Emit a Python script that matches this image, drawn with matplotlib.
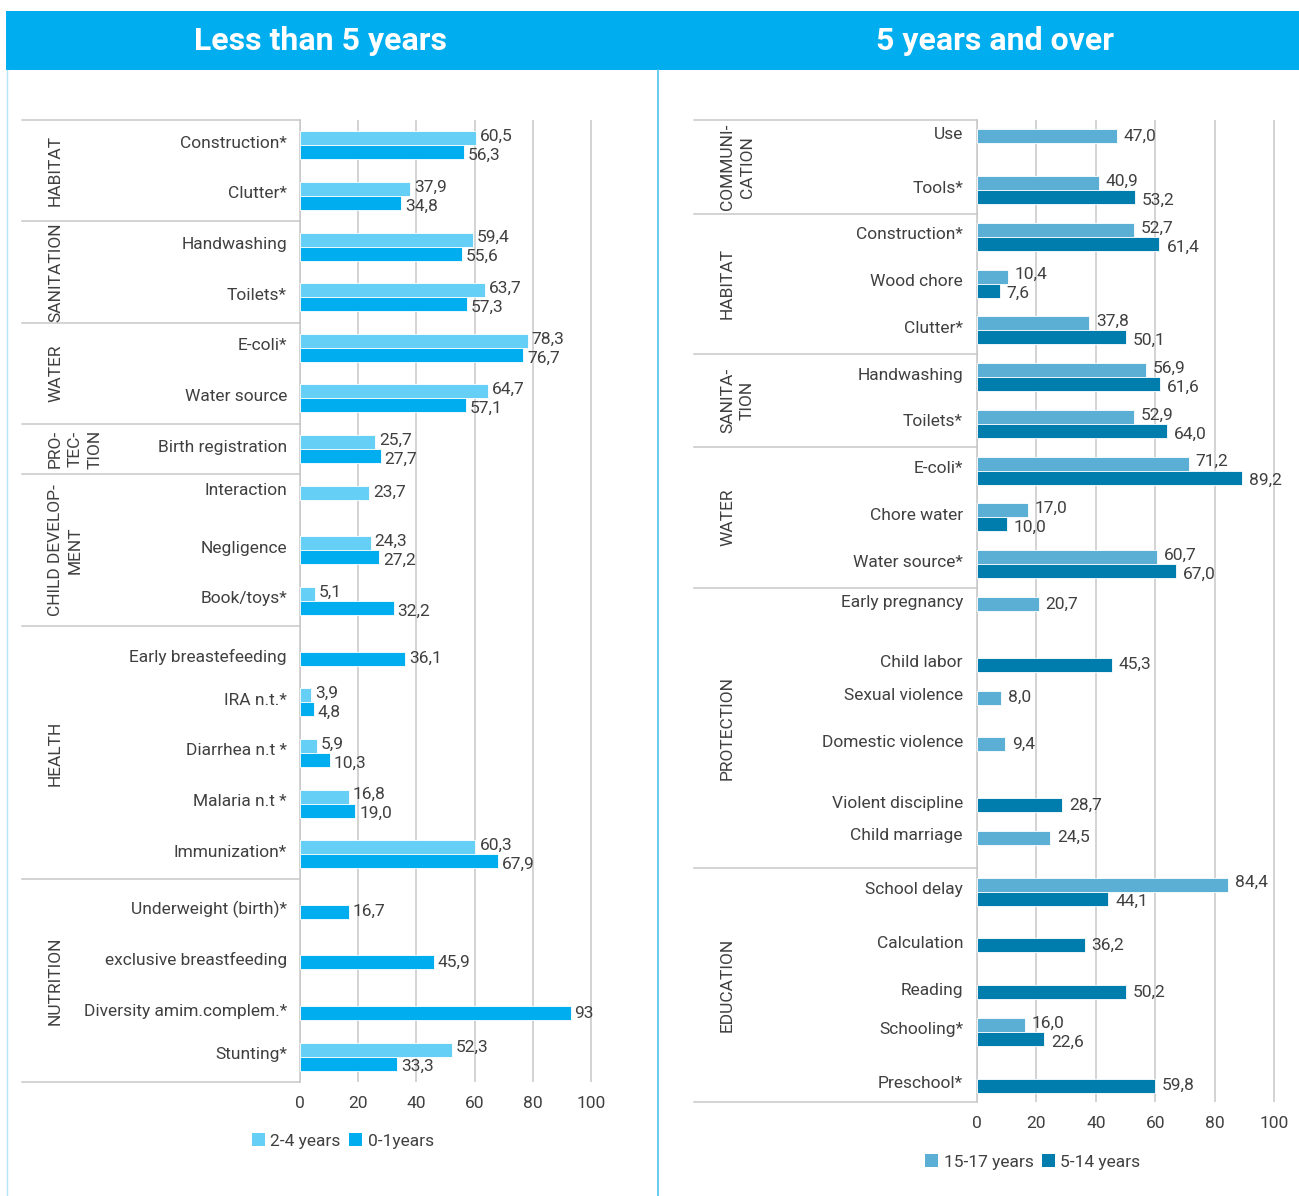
import matplotlib
matplotlib.use("Agg")
import matplotlib.pyplot as plt
from matplotlib import transforms
from matplotlib.patches import Patch, Rectangle
from matplotlib.lines import Line2D
import numpy as np

plt.rcParams['font.family'] = ['Roboto', 'DejaVu Sans']

# ---------------- Children under 5 ----------------
under5_groups = ["HABITAT", "SANITATION", "WATER", "PRO-\nTEC-\nTION",
                 "CHILD DEVELOP-\nMENT", "HEALTH", "NUTRITION"]
under5_group_sizes = [2, 2, 2, 1, 3, 5, 4]
under5_categories = ["Construction*", "Clutter*", "Handwashing", "Toilets*",
                     "E-coli*", "Water source", "Birth registration",
                     "Interaction", "Negligence", "Book/toys*",
                     "Early breastefeeding", "IRA n.t.*", "Diarrhea n.t *",
                     "Malaria n.t *", "Immunization*", "Underweight (birth)*",
                     "exclusive breastfeeding", "Diversity amim.complem.*",
                     "Stunting*"]
under5_series = ["2-4 years", "0-1years"]
age_2_4 = [60.5, 37.9, 59.4, 63.7, 78.3, 64.7, 25.7, 23.7, 24.3, 5.1,
           None, 3.9, 5.9, 16.8, 60.3, None, None, None, 52.3]
age_0_1 = [56.3, 34.8, 55.6, 57.3, 76.7, 57.1, 27.7, None, 27.2, 32.2,
           36.1, 4.8, 10.3, 19.0, 67.9, 16.7, 45.9, 93, 33.3]

# ---------------- Children 5 and over ----------------
over5_groups = ["COMMUNI-\nCATION", "HABITAT", "SANITA-\nTION", "WATER",
                "PROTECTION", "EDUCATION"]
over5_group_sizes = [2, 3, 2, 3, 6, 5]
over5_categories = ["Use", "Tools*", "Construction*", "Wood chore", "Clutter*",
                    "Handwashing", "Toilets*", "E-coli*", "Chore water",
                    "Water source*", "Early pregnancy", "Child labor",
                    "Sexual violence", "Domestic violence",
                    "Violent discipline", "Child marriage", "School delay",
                    "Calculation", "Reading", "Schooling*", "Preschool*"]
over5_series = ["15-17 years", "5-14 years"]
age_15_17 = [47.0, 40.9, 52.7, 10.4, 37.8, 56.9, 52.9, 71.2, 17.0, 60.7,
             20.7, None, 8.0, 9.4, None, 24.5, 84.4, None, None, 16.0, None]
age_5_14 = [None, 53.2, 61.4, 7.6, 50.1, 61.6, 64.0, 89.2, 10.0, 67.0,
            None, 45.3, None, None, 28.7, None, 44.1, 36.2, 50.2, 22.6, 59.8]

axis_ticks = [0, 20, 40, 60, 80, 100]
titles = ["Less than 5 years", "5 years and over"]

W, H, DPI = 1299, 1196, 100
TEXT = '#404040'
GRID = '#c8c8c8'
HEADER = '#00aeef'
FS = 12.5

fig = plt.figure(figsize=(W / DPI, H / DPI), dpi=DPI)
fig.patch.set_facecolor('white')


def fx(px):
    return px / W


def fy(py):
    return 1 - py / H


def fmt(v):
    if isinstance(v, int):
        return str(v)
    return f"{v:.1f}".replace('.', ',')


# header band and panel frame lines
fig.add_artist(Rectangle((fx(6), fy(70)), fx(W) - fx(6), 59 / H,
                         transform=fig.transFigure, facecolor=HEADER,
                         edgecolor='none', zorder=0))
fig.add_artist(Line2D([fx(7), fx(7)], [fy(70), 0], transform=fig.transFigure,
                      color='#b5e3f7', lw=1.0))
fig.add_artist(Line2D([fx(658), fx(658)], [fy(70), 0],
                      transform=fig.transFigure, color='#4fc4ef', lw=1.2))
fig.text(fx(321), fy(41), titles[0], color='white', fontsize=23,
         fontweight='bold', ha='center', va='center')
fig.text(fx(995), fy(41), titles[1], color='white', fontsize=23,
         fontweight='bold', ha='center', va='center')


def draw_panel(rect_px, xmax, cats, groups, sizes, upper, lower, colors,
               names, label_right_px, table_left_px, group_text_px,
               legend_px, gap_px):
    left, top, right, bottom = rect_px
    ax = fig.add_axes([fx(left), fy(bottom), (right - left) / W,
                       (bottom - top) / H])
    n = len(cats)
    slot = (bottom - top) / n          # pixels per category slot
    px = 1.0 / slot                    # one pixel in y data units
    xpx = xmax / (right - left)        # one pixel in x data units
    off = 7 * px
    bh = 14 * px
    ax.set_ylim(n - 0.5, -0.5)
    ax.set_xlim(0, xmax)

    for i in range(n):
        u, l = upper[i], lower[i]
        both = u is not None and l is not None
        ys = []
        if u is not None:
            yb = i - off
            ys.append(yb)
            ax.barh(yb, u, height=bh, color=colors[0], edgecolor='white',
                    linewidth=0.6, zorder=3)
            ax.text(u + gap_px * xpx, yb - (2 * px if both else 0), fmt(u),
                    ha='left', va='center', fontsize=FS, color=TEXT, zorder=4)
        if l is not None:
            yb = i + off
            ys.append(yb)
            ax.barh(yb, l, height=bh, color=colors[1], edgecolor='white',
                    linewidth=0.6, zorder=3)
            ax.text(l + gap_px * xpx, yb + (3 * px if both else 0), fmt(l),
                    ha='left', va='center', fontsize=FS, color=TEXT, zorder=4)
        ax.text(fx(label_right_px), np.mean(ys) - 2 * px, cats[i],
                transform=transforms.blended_transform_factory(
                    fig.transFigure, ax.transData),
                ha='right', va='center', fontsize=FS, color=TEXT)

    # group table lines and rotated group labels
    blend = transforms.blended_transform_factory(fig.transFigure, ax.transData)
    bounds = np.concatenate([[0], np.cumsum(sizes)]) - 0.5
    for b in bounds:
        ax.add_line(Line2D([fx(table_left_px), fx(left)], [b, b],
                           transform=blend, color=GRID, lw=1.1,
                           clip_on=False))
    for g, a, b in zip(groups, bounds[:-1], bounds[1:]):
        ax.text(fx(group_text_px), (a + b) / 2, g, transform=blend,
                rotation=90, ha='left', va='center', multialignment='center',
                fontsize=FS, color=TEXT, linespacing=1.4)

    ax.set_xticks(axis_ticks)
    ax.set_yticks([])
    ax.grid(axis='x', color=GRID, lw=1.1, zorder=0)
    ax.set_axisbelow(True)
    ax.tick_params(axis='x', length=0, pad=10, labelsize=FS,
                   labelcolor=TEXT)
    for s in ('top', 'right', 'bottom'):
        ax.spines[s].set_visible(False)
    ax.spines['left'].set_color(GRID)
    ax.spines['left'].set_linewidth(1.1)

    handles = [Patch(facecolor=colors[0], label=names[0]),
               Patch(facecolor=colors[1], label=names[1])]
    fig.legend(handles=handles, loc='center',
               bbox_to_anchor=(fx(legend_px[0]), fy(legend_px[1])),
               ncol=2, frameon=False, fontsize=FS, labelcolor=TEXT,
               handlelength=0.75, handleheight=0.75, handletextpad=0.3,
               columnspacing=0.5)
    return ax


draw_panel((300, 120, 620, 1082), 110, under5_categories, under5_groups,
           under5_group_sizes, age_2_4, age_0_1, ['#66cff5', '#00aeef'],
           under5_series, label_right_px=287, table_left_px=22,
           group_text_px=48, legend_px=(343, 1141), gap_px=4)

draw_panel((977, 120, 1286, 1102), 104, over5_categories, over5_groups,
           over5_group_sizes, age_15_17, age_5_14, ['#5baed4', '#007cad'],
           over5_series, label_right_px=963, table_left_px=694,
           group_text_px=720, legend_px=(1033, 1162), gap_px=7)

fig.savefig("out.png", dpi=DPI)
